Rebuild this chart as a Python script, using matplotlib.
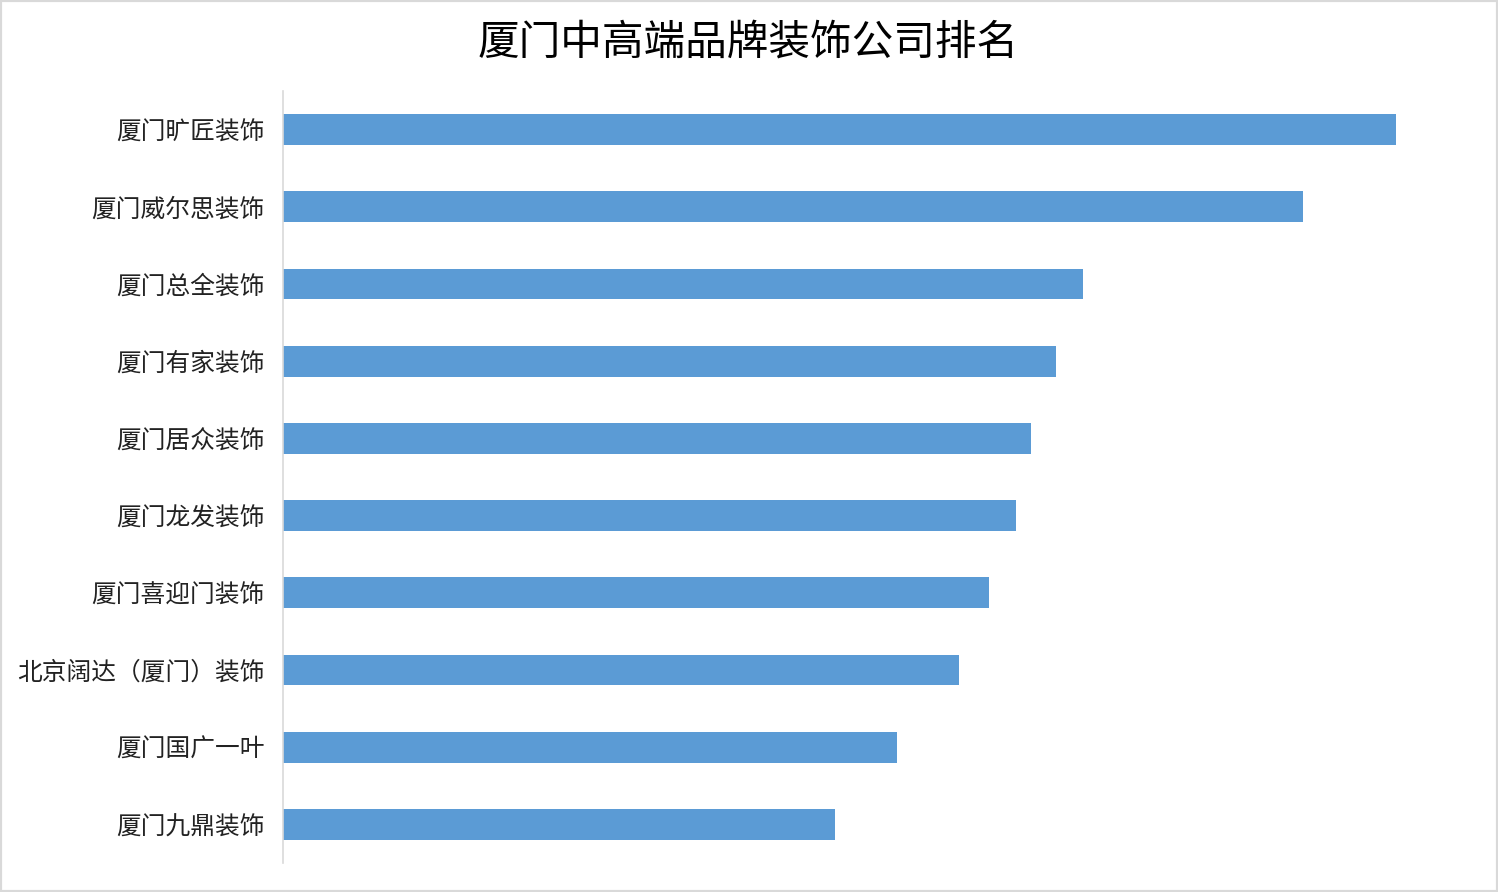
import matplotlib
matplotlib.use("Agg")
import matplotlib.pyplot as plt
from matplotlib.patches import Rectangle

plt.rcParams['font.family'] = ['Noto Sans CJK SC', 'DejaVu Sans']

categories = ["厦门旷匠装饰", "厦门威尔思装饰", "厦门总全装饰", "厦门有家装饰", "厦门居众装饰",
              "厦门龙发装饰", "厦门喜迎门装饰", "北京阔达（厦门）装饰", "厦门国广一叶", "厦门九鼎装饰"]
values = [1113, 1020, 800, 773, 748, 733, 706, 676, 614, 552]
title = "厦门中高端品牌装饰公司排名"

W, H = 1498, 892
fig = plt.figure(figsize=(W / 100, H / 100), dpi=100)
ax = fig.add_axes([283 / W, 1 - 863 / H, (1480 - 283) / W, (863 - 91) / H])

ypos = list(range(len(categories)))
ax.barh(ypos, values, height=0.4, color="#5B9BD5")
ax.set_yticks(ypos)
ax.set_yticklabels(categories, fontsize=17.8, color="#222222")
ax.set_ylim(len(categories) - 0.5, -0.5)
ax.set_xlim(0, 1197)
ax.set_xticks([])
ax.tick_params(axis='y', length=0, pad=13)
for s in ["top", "right", "bottom"]:
    ax.spines[s].set_visible(False)
ax.spines["left"].set_color("#d9d9d9")
ax.spines["left"].set_linewidth(1.2)

fig.text(748 / W, 1 - 43 / H, title, ha="center", va="center", fontsize=30, color="#000000")

fig.patches.append(Rectangle((0, 0), 1, 1, transform=fig.transFigure, fill=False,
                             edgecolor="#d9d9d9", linewidth=3))

fig.savefig("out.png", dpi=100)
